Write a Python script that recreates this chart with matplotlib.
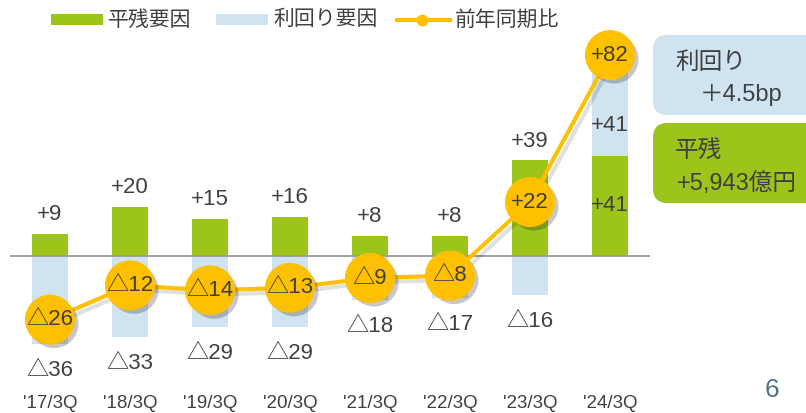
import numpy as np
import matplotlib
matplotlib.use("Agg")
import matplotlib.pyplot as plt
import matplotlib.transforms as mtransforms
from matplotlib.patches import Rectangle, FancyBboxPatch
from matplotlib.lines import Line2D
import matplotlib.patheffects as pe

plt.rcParams['font.family'] = ['Liberation Sans', 'Noto Sans CJK JP', 'DejaVu Sans']

categories = ["'17/3Q", "'18/3Q", "'19/3Q", "'20/3Q", "'21/3Q", "'22/3Q", "'23/3Q", "'24/3Q"]
balance = np.array([9, 20, 15, 16, 8, 8, 39, 41])            # 平残要因
yield_f = np.array([-36, -33, -29, -29, -18, -17, -16, 41])  # 利回り要因
yoy = np.array([-26, -12, -14, -13, -9, -8, 22, 82])          # 前年同期比

legend_labels = ["平残要因", "利回り要因", "前年同期比"]

GREEN = '#9DC41A'
BLUE = '#CFE3F0'
ORANGE = '#FFC000'
TXT = '#404040'

W, H = 806, 413
fig = plt.figure(figsize=(W / 100, H / 100), dpi=100)

def fx(x):
    return x / W

def fy(y):
    return 1 - y / H

# axes: x from 10 to 650 px, y zero at 256 px, 2.45 px per unit
ylo, yhi = -50, 85
ppu = 2.45
top_px = 256 - yhi * ppu
bot_px = 256 - ylo * ppu
ax = fig.add_axes([fx(10), fy(bot_px), (650 - 10) / W, (bot_px - top_px) / H])
ax.set_xlim(-0.5, 7.5)
ax.set_ylim(ylo, yhi)
ax.axis('off')

x = np.arange(len(categories))
ax.axhline(0, color='#9A9A9A', lw=1.3, zorder=3)
ax.bar(x, balance, width=0.45, color=GREEN, zorder=2)
blue_bottom = np.where(yield_f > 0, balance, 0)
ax.bar(x, yield_f, width=0.45, bottom=blue_bottom, color=BLUE, zorder=2)

# line with shadow
ax.plot(x, yoy, color=ORANGE, lw=3, zorder=5, clip_on=False,
        path_effects=[pe.SimpleLineShadow(offset=(3, -3), shadow_color='#000000', alpha=0.12),
                      pe.Normal()])
# markers with shadow
ax.plot(x, yoy, linestyle='none', marker='o', ms=35, mfc=ORANGE, mec=ORANGE, zorder=5.5,
        clip_on=False,
        path_effects=[pe.SimplePatchShadow(offset=(3, -3), shadow_rgbFace='#000000', alpha=0.22),
                      pe.Normal()])

def fmt(v):
    return f"△{abs(v)}" if v < 0 else f"+{v}"

fs = 16
blend = mtransforms.blended_transform_factory(ax.transData, fig.transFigure)
for i in range(len(x)):
    if yield_f[i] > 0:
        ax.text(x[i], balance[i] / 2, fmt(balance[i]), ha='center', va='center',
                fontsize=fs, color=TXT, zorder=4)
        ax.text(x[i], balance[i] + yield_f[i] * 0.3, fmt(yield_f[i]), ha='center', va='center',
                fontsize=fs, color=TXT, zorder=4)
    else:
        ax.annotate(fmt(balance[i]), (x[i], balance[i]), xytext=(0, 14), textcoords='offset points',
                    ha='center', va='center', fontsize=fs, color=TXT, zorder=4)
        ax.annotate(fmt(yield_f[i]), (x[i], yield_f[i]), xytext=(0, -19), textcoords='offset points',
                    ha='center', va='center', fontsize=fs, color=TXT, zorder=4)
    ax.text(x[i], yoy[i], fmt(yoy[i]), ha='center', va='center', fontsize=fs, color=TXT,
            zorder=6, clip_on=False)
    ax.text(x[i], fy(403), categories[i], ha='center', va='center', fontsize=13.5, color=TXT,
            transform=blend)

# legend (manual)
lfs = 15
fig.add_artist(Rectangle((fx(51), fy(25)), (103 - 51) / W, 11 / H, transform=fig.transFigure,
                         color=GREEN, lw=0))
fig.text(fx(108), fy(19.5), legend_labels[0], ha='left', va='center', fontsize=lfs, color=TXT)
fig.add_artist(Rectangle((fx(216), fy(25)), (268 - 216) / W, 11 / H, transform=fig.transFigure,
                         color=BLUE, lw=0))
fig.text(fx(273), fy(19.5), legend_labels[1], ha='left', va='center', fontsize=lfs, color=TXT)
fig.add_artist(Line2D([fx(397), fx(450)], [fy(19.5), fy(19.5)], transform=fig.transFigure,
                      color=ORANGE, lw=3))
fig.add_artist(Line2D([fx(422)], [fy(19.5)], transform=fig.transFigure, color=ORANGE,
                      marker='o', ms=7.5, lw=0))
fig.text(fx(455), fy(19.5), legend_labels[2], ha='left', va='center', fontsize=lfs, color=TXT)

# right boxes
bfs = 17
box1 = FancyBboxPatch((fx(653), fy(115)), (820 - 653) / W, 80 / H,
                      boxstyle="round,pad=0,rounding_size=0.018", transform=fig.transFigure,
                      fc=BLUE, ec='none', mutation_aspect=W / H)
fig.add_artist(box1)
box2 = FancyBboxPatch((fx(653), fy(203)), (820 - 653) / W, 80 / H,
                      boxstyle="round,pad=0,rounding_size=0.018", transform=fig.transFigure,
                      fc=GREEN, ec='none', mutation_aspect=W / H)
fig.add_artist(box2)
fig.text(fx(675), fy(63), "利回り", ha='left', va='center', fontsize=bfs, color=TXT)
fig.text(fx(700), fy(95), "＋4.5bp", ha='left', va='center', fontsize=bfs, color=TXT)
fig.text(fx(675), fy(152), "平残", ha='left', va='center', fontsize=bfs, color=TXT)
fig.text(fx(677), fy(184), "+5,943億円", ha='left', va='center', fontsize=bfs, color=TXT)

# page number
fig.text(fx(772), fy(390), "6", ha='center', va='center', fontsize=19, color='#4E7186')

fig.savefig("out.png", dpi=100)
